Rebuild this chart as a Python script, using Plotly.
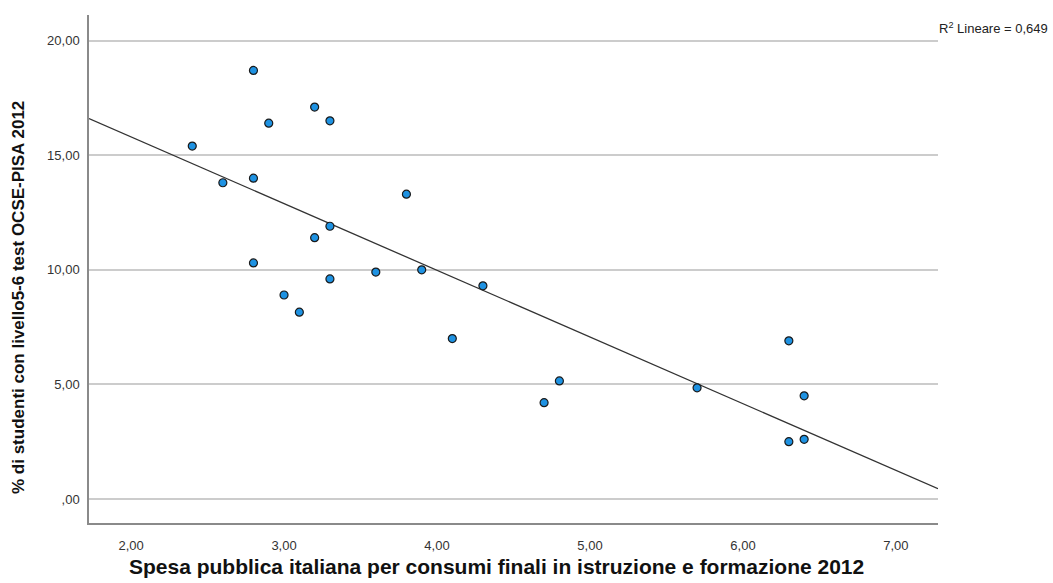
import numpy as np
import plotly.graph_objects as go

# Public spending on education (% of final consumption) vs share of top PISA performers
spesa = [2.4, 2.6, 2.8, 2.8, 2.9, 3.2, 3.3, 2.8, 3.2, 3.3, 3.0, 3.1, 3.3,
         3.6, 3.8, 3.9, 4.3, 4.1, 4.8, 4.7, 5.7, 6.3, 6.4, 6.3, 6.4]
studenti = [15.4, 13.8, 14.0, 18.7, 16.4, 17.1, 16.5, 10.3, 11.4, 11.9, 8.9, 8.15, 9.6,
            9.9, 13.3, 10.0, 9.3, 7.0, 5.15, 4.2, 4.85, 6.9, 4.5, 2.5, 2.6]

x_ticks = [2, 3, 4, 5, 6, 7]
x_labels = ["2,00", "3,00", "4,00", "5,00", "6,00", "7,00"]
y_ticks = [0, 5, 10, 15, 20]
y_labels = [",00", "5,00", "10,00", "15,00", "20,00"]

x_range = [1.725, 7.275]
y_range = [-1.05, 21.12]

# Least-squares fit line across the whole x axis
slope, intercept = np.polyfit(spesa, studenti, 1)
fit_x = np.array(x_range)
fit_y = slope * fit_x + intercept

W, H = 1053, 583
ML, MR, MT, MB = 89, 115, 15, 60
PW, PH = W - ML - MR, H - MT - MB


def px_to_paper(px, py):
    """Convert page pixel coordinates (from top-left) to paper coordinates."""
    return (px - ML) / PW, (H - py - MB) / PH


fig = go.Figure()
fig.add_trace(go.Scatter(
    x=fit_x, y=fit_y, mode="lines",
    line=dict(color="#333333", width=1.3),
    hoverinfo="skip", showlegend=False,
))
fig.add_trace(go.Scatter(
    x=spesa, y=studenti, mode="markers",
    marker=dict(size=8, color="#1E92E2", line=dict(color="#1a1a1a", width=1.2)),
    showlegend=False,
))

font_family = "Liberation Sans, Arial, sans-serif"

xt_x, xt_y = px_to_paper(496, 566)
yt_x, yt_y = px_to_paper(18, 298)
r2_x, r2_y = px_to_paper(937, 28)

fig.update_layout(
    width=W, height=H,
    margin=dict(l=ML, r=MR, t=MT, b=MB),
    paper_bgcolor="white", plot_bgcolor="white",
    font=dict(family=font_family, size=13, color="#333333"),
    xaxis=dict(
        range=x_range, tickvals=x_ticks, ticktext=x_labels,
        showgrid=False, zeroline=False,
        showline=True, linecolor="#8a8a8a", linewidth=1.5,
        ticks="", ticklabelstandoff=10,
        tickfont=dict(size=13, color="#333333"),
    ),
    yaxis=dict(
        range=y_range, tickvals=y_ticks, ticktext=y_labels,
        showgrid=True, gridcolor="#cccccc", gridwidth=1.5,
        zeroline=False,
        showline=True, linecolor="#8a8a8a", linewidth=1.5,
        ticks="", ticklabelstandoff=5,
        tickfont=dict(size=13, color="#333333"),
    ),
    annotations=[
        dict(
            text="<b>Spesa pubblica italiana per consumi finali in istruzione e formazione 2012</b>",
            x=xt_x, y=xt_y, xref="paper", yref="paper", showarrow=False,
            xanchor="center", yanchor="middle",
            font=dict(size=21, color="#111111", family=font_family),
        ),
        dict(
            text="<b>% di studenti con livello5-6 test OCSE-PISA 2012</b>",
            x=yt_x, y=yt_y, xref="paper", yref="paper", showarrow=False,
            xanchor="center", yanchor="middle", textangle=-90,
            font=dict(size=17, color="#111111", family=font_family),
        ),
        dict(
            text="R<sup>2</sup> Lineare = 0,649",
            x=r2_x, y=r2_y, xref="paper", yref="paper", showarrow=False,
            xanchor="left", yanchor="middle",
            font=dict(size=13, color="#222222", family=font_family),
        ),
    ],
)

fig.write_html("out.html")
